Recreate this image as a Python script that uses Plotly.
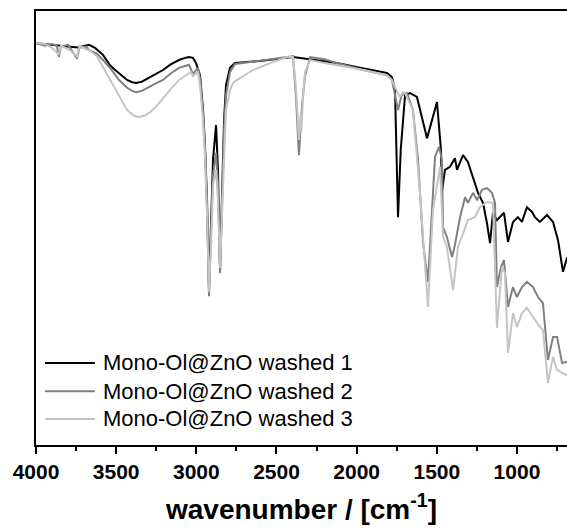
import plotly.graph_objects as go

# ---- data ----
names = ["Mono-Ol@ZnO washed 1", "Mono-Ol@ZnO washed 2", "Mono-Ol@ZnO washed 3"]
colors = ["#000000", "#808080", "#c4c4c4"]

wn1 = [4000, 3944, 3850, 3740, 3669, 3632, 3582, 3538, 3510, 3482, 3455, 3432, 3400, 3376, 3340, 3289,
       3250, 3208, 3160, 3108, 3070, 3046, 3021,
       3002, 2977, 2958, 2946, 2933, 2921, 2908, 2896, 2877, 2865, 2852, 2840, 2827, 2815, 2790, 2759,
       2603, 2397, 2360, 2291, 2123, 1979, 1811, 1780, 1761, 1742, 1725, 1698, 1667, 1624, 1561, 1499,
       1474, 1468, 1449, 1418, 1387, 1374, 1337, 1306, 1274, 1243, 1212, 1187, 1168, 1150, 1125, 1106,
       1081, 1056, 1025, 994, 969, 938, 906, 888, 857, 813, 775, 744, 713, 688, 650]
t1 = [92.6, 92.4, 92.0, 91.6, 92.2, 91.5, 89.9, 87.5, 86.5, 85.7, 84.8, 84.1, 83.6, 83.4, 83.7, 84.8,
      85.6, 86.4, 87.7, 88.7, 89.2, 89.4, 89.2,
      88.0, 85.2, 77.2, 69.1, 56.4, 35.7, 49.5, 65.7, 73.7, 63.4, 40.3, 56.4, 74.9, 82.9, 86.9, 88.0,
      88.5, 89.4, 89.2, 88.9, 88.0, 86.9, 85.7, 84.8, 82.0, 52.5, 68.0, 80.6, 81.1, 80.2, 70.7, 79.0,
      68.0, 58.3, 63.4, 64.1, 66.1, 63.4, 66.8, 65.2, 61.7, 58.1, 55.8, 51.1, 46.5, 53.5, 51.8, 52.5,
      53.5, 46.8, 51.4, 52.5, 51.4, 54.8, 53.7, 52.5, 51.4, 53.0, 51.4, 47.2, 39.9, 43.1, 44.0]

wn2 = [4000, 3944, 3900, 3870, 3857, 3845, 3800, 3744, 3730, 3690, 3669, 3620, 3582, 3530, 3482, 3432,
       3400, 3376, 3340, 3289, 3250,
       3208, 3160, 3108, 3046, 3021, 2990, 2977, 2958, 2946, 2933, 2921, 2908, 2896, 2877, 2865, 2852, 2840,
       2827, 2815, 2790, 2759, 2603, 2434, 2397, 2378, 2360, 2350, 2341, 2322, 2291, 2200, 2123, 1979,
       1811, 1780, 1761, 1742, 1720, 1686, 1649, 1617, 1586, 1555, 1530, 1511, 1486, 1468, 1461, 1437,
       1405, 1387, 1355, 1324, 1306, 1274, 1249, 1218, 1187, 1156, 1137, 1125, 1100, 1081, 1056, 1025,
       1000, 969, 938, 900, 869, 838, 807, 775, 750, 719, 688, 650]
t2 = [92.6, 92.0, 92.4, 92.0, 89.4, 91.8, 92.2, 89.0, 91.5, 91.8, 91.0, 90.2, 88.7, 86.5, 84.1, 82.3,
      81.6, 81.3, 81.6, 82.7, 83.4,
      84.1, 85.6, 86.9, 87.6, 85.5, 86.9, 84.5, 76.0, 68.0, 54.1, 34.3, 47.2, 62.2, 67.3, 59.9, 39.6, 53.7,
      72.6, 80.6, 85.9, 87.8, 88.5, 89.4, 89.6, 80.0, 66.8, 72.0, 78.0, 85.0, 89.4, 88.9, 88.0, 86.6,
      85.2, 84.1, 81.0, 77.2, 80.6, 81.1, 77.2, 65.7, 46.5, 37.6, 54.1, 66.4, 68.7, 65.7, 50.2, 47.9,
      43.3, 46.1, 52.5, 57.1, 55.8, 58.1, 56.4, 58.8, 59.2, 58.1, 55.8, 36.4, 41.0, 42.6, 31.8, 36.4,
      34.1, 36.4, 37.6, 36.4, 34.1, 32.7, 19.6, 24.9, 24.9, 18.9, 19.1, 19.5]

wn3 = [4000, 3944, 3900, 3857, 3845, 3790, 3744, 3730, 3690, 3669, 3620, 3582, 3530, 3482, 3432, 3390,
       3358, 3320, 3289, 3250, 3208, 3160,
       3108, 3033, 3021, 2990, 2977, 2958, 2946, 2933, 2921, 2908, 2896, 2877, 2865, 2852, 2840, 2827,
       2815, 2790, 2771, 2759, 2696, 2647, 2540, 2434, 2397, 2378, 2360, 2350, 2345, 2335, 2322, 2291,
       2200, 2123, 2050, 1979, 1811, 1780, 1761, 1730, 1711, 1698, 1649, 1605, 1555, 1524, 1480, 1461,
       1437, 1399, 1368, 1337, 1306, 1262, 1231, 1187, 1150, 1125, 1094, 1075, 1056, 1025, 1000, 969,
       938, 900, 857, 838, 807, 775, 750, 719, 688, 650]
t3 = [92.6, 92.4, 91.5, 90.0, 92.0, 91.0, 89.5, 92.0, 91.2, 91.0, 89.6, 87.1, 83.6, 80.2, 77.2, 75.9,
      75.6, 75.9, 76.7, 78.0, 79.9, 82.0,
      84.1, 85.9, 85.0, 85.9, 82.9, 74.9, 66.8, 53.0, 35.3, 46.1, 59.9, 63.4, 56.4, 40.8, 53.0, 68.0,
      77.2, 81.8, 83.4, 83.8, 85.2, 86.4, 88.0, 89.4, 89.4, 82.0, 70.3, 76.0, 72.0, 80.0, 86.0, 88.7,
      88.0, 87.5, 87.0, 86.6, 85.2, 84.1, 82.5, 80.2, 81.3, 81.1, 77.2, 58.1, 31.8, 54.1, 64.1, 47.9,
      45.6, 35.7, 45.6, 48.8, 51.8, 52.5, 54.8, 56.0, 55.8, 27.0, 41.0, 39.6, 21.2, 30.4, 27.2, 30.4,
      31.6, 29.5, 27.2, 26.5, 14.3, 20.3, 17.3, 16.6, 16.1, 16.5]

x_range = [4000, 688]
y_range = [0, 100]
x_ticks = [4000, 3500, 3000, 2500, 2000, 1500, 1000]

series = [(wn1, t1), (wn2, t2), (wn3, t3)]
FONT = "Liberation Sans, Arial, sans-serif"

fig = go.Figure()
for (x, y), name, c in zip(series, names, colors):
    fig.add_trace(go.Scatter(x=x, y=y, mode="lines", name=name, showlegend=False,
                             line=dict(color=c, width=2)))

# legend drawn as key lines + labels (paper coordinates)
legend_rows_y = [0.189, 0.124, 0.060]
for name, c, ly in zip(names, colors, legend_rows_y):
    fig.add_shape(type="line", xref="paper", yref="paper", x0=0.017, x1=0.111, y0=ly, y1=ly,
                  line=dict(color=c, width=2))
    fig.add_annotation(xref="paper", yref="paper", x=0.122, y=ly, xanchor="left", yanchor="middle",
                       text=name, showarrow=False, font=dict(size=22, family=FONT, color="black"))

fig.update_layout(
    width=567, height=530,
    margin=dict(l=36, r=0, t=11, b=85),
    paper_bgcolor="white", plot_bgcolor="white",
    font=dict(family=FONT, color="black"),
    showlegend=False,
)
fig.update_xaxes(
    range=x_range, tickvals=x_ticks, ticktext=[str(v) for v in x_ticks],
    showline=True, linecolor="black", linewidth=2, mirror=True,
    ticks="outside", ticklen=7, tickwidth=2, tickcolor="black",
    minor=dict(ticks="outside", ticklen=4, tickwidth=2, tickcolor="black", dtick=250, tick0=0),
    showgrid=False, zeroline=False,
    tickfont=dict(size=21, family=FONT, color="black", weight="bold"),
    title=dict(text="<b>wavenumber / [cm<sup>-1</sup>]</b>", font=dict(size=28, family=FONT), standoff=17),
)
fig.update_yaxes(
    range=y_range, showline=True, linecolor="black", linewidth=2, mirror=False,
    showticklabels=False, ticks="", showgrid=False, zeroline=False,
)

fig.write_html("out.html")
